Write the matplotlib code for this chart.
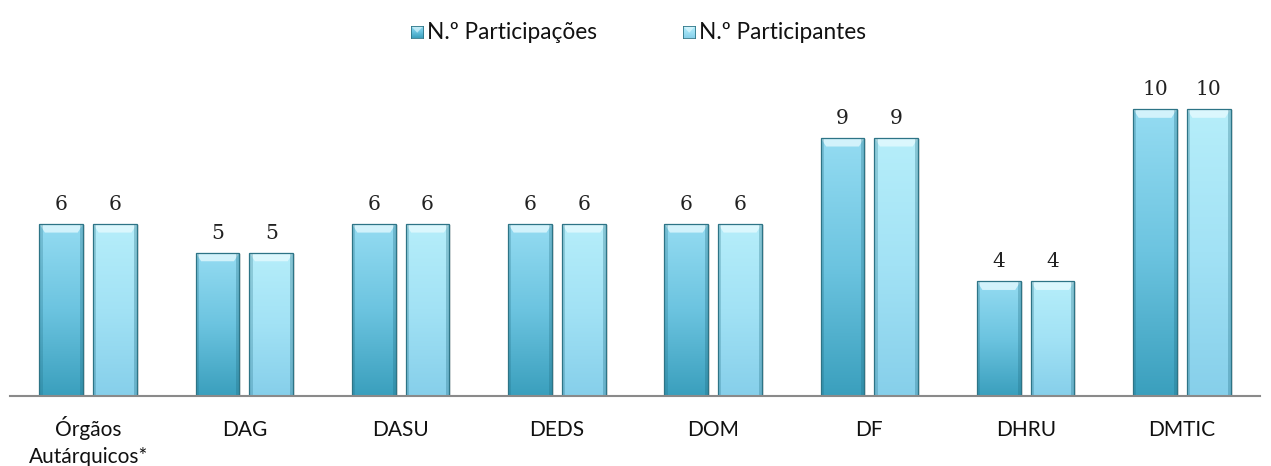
import numpy as np
import matplotlib
matplotlib.use("Agg")
import matplotlib.pyplot as plt
from matplotlib.patches import Rectangle, Polygon
from matplotlib.colors import LinearSegmentedColormap

categorias = ["Órgãos\nAutárquicos*", "DAG", "DASU", "DEDS", "DOM", "DF", "DHRU", "DMTIC"]
participacoes = [6, 5, 6, 6, 6, 9, 4, 10]
participantes = [6, 5, 6, 6, 6, 9, 4, 10]
series = ["N.º Participações", "N.º Participantes"]

# gradientes (topo -> base) de cada série
cm_escuro = LinearSegmentedColormap.from_list("esc", ["#3a9fbd", "#6cc4e0", "#95dcf2"])
cm_claro = LinearSegmentedColormap.from_list("cla", ["#86cfea", "#a2e2f5", "#b6eefa"])

fig = plt.figure(figsize=(12.71, 4.66), dpi=100)
ax = fig.add_axes([0.0079, 0.150, 0.9835, 0.708])

x = np.arange(len(categorias))
w = 0.28
off = 0.172
ax.set_xlim(-0.5, len(categorias) - 0.5)
ax.set_ylim(0, 11.5)

grad = np.linspace(0, 1, 256).reshape(-1, 1)


def barra(xc, h, cmap):
    x0, x1 = xc - w / 2, xc + w / 2
    # sombra
    ax.add_patch(Rectangle((x0 + 0.012, 0), w, h - 0.03, fc="#000000", alpha=0.12,
                           ec="none", zorder=1))
    im = ax.imshow(grad, extent=(x0, x1, 0, h), origin="lower", cmap=cmap,
                   aspect="auto", zorder=2)
    r = Rectangle((x0, 0), w, h, fc="none", ec="#2d7486", lw=0.9, zorder=4)
    ax.add_patch(r)
    im.set_clip_path(r)
    # bisel superior e laterais
    bx, by = 0.035, 0.3
    ax.add_patch(Polygon([(x0, h), (x1, h), (x1 - bx, h - by), (x0 + bx, h - by)],
                         fc="#e8fbff", alpha=0.75, ec="none", zorder=3))
    ax.add_patch(Rectangle((x0, 0), 0.02, h, fc="#1f6b80", alpha=0.25, ec="none", zorder=3))
    ax.add_patch(Rectangle((x1 - 0.02, 0), 0.02, h, fc="#1f6b80", alpha=0.3, ec="none", zorder=3))


for i in range(len(categorias)):
    barra(x[i] - off, participacoes[i], cm_escuro)
    barra(x[i] + off, participantes[i], cm_claro)
    ax.text(x[i] - off, participacoes[i] + 0.35, str(participacoes[i]), ha="center",
            va="bottom", fontsize=14.5, family="DejaVu Serif", color="#222222")
    ax.text(x[i] + off, participantes[i] + 0.35, str(participantes[i]), ha="center",
            va="bottom", fontsize=14.5, family="DejaVu Serif", color="#222222")

# rótulos das categorias, linha a linha alinhados pela linha de base
ax.set_xticks([])
for i, cat in enumerate(categorias):
    for k, linha in enumerate(cat.split("\n")):
        ax.annotate(linha, xy=(x[i], 0), xycoords=("data", "axes fraction"),
                    xytext=(0, -28.8 - 19.4 * k), textcoords="offset points",
                    ha="center", va="baseline", fontsize=15, family="Lato",
                    color="#111111", annotation_clip=False)
ax.set_yticks([])
for s in ["top", "right", "left"]:
    ax.spines[s].set_visible(False)
ax.spines["bottom"].set_color("#8a8a8a")
ax.spines["bottom"].set_linewidth(1.5)
ax.spines["bottom"].set_zorder(5)

# legenda
lx = [0.3235, 0.5375]
for j, (nome, cm) in enumerate(zip(series, [cm_escuro, cm_claro])):
    lax = fig.add_axes([lx[j], 0.918, 0.0095, 0.026])
    lax.imshow(grad, cmap=cm, origin="lower", aspect="auto", extent=(0, 1, 0, 1))
    lax.add_patch(Polygon([(0, 1), (1, 1), (0.5, 0.45)], fc="#e8fbff", alpha=0.6, ec="none"))
    lax.set_xticks([]); lax.set_yticks([])
    for sp in lax.spines.values():
        sp.set_color("#2d7486"); sp.set_linewidth(0.6)
    fig.text(lx[j] + 0.0125, 0.931, nome, fontsize=16.3, family="Lato",
             va="center", ha="left", color="#111111")

fig.savefig("out.png", dpi=100)
